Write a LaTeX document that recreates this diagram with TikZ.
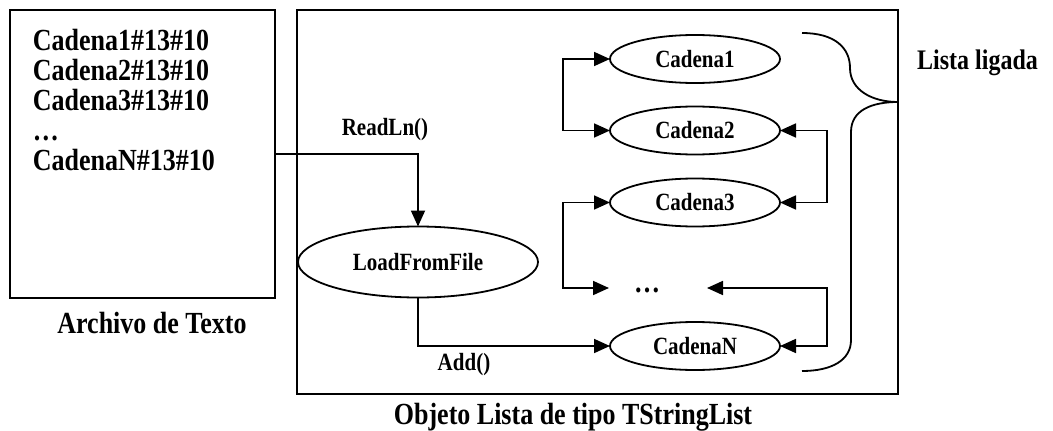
\documentclass[tikz,border=0pt]{standalone}
\usepackage{fontspec}
\setmainfont{Liberation Serif}
\usepackage{graphicx}
\usetikzlibrary{shapes.geometric,arrows.meta}
\newcommand\vst[1]{\scalebox{1}[1.18]{#1}}
\begin{document}
\begin{tikzpicture}[x=1pt,y=-1pt,
  line width=1.8pt,
  boxnode/.style={draw, rectangle, inner sep=0pt, outer sep=0pt},
  oval/.style={draw, ellipse, inner sep=0pt, outer sep=0pt, minimum width=170pt, minimum height=48pt, font=\bfseries\fontsize{21}{24}\selectfont},
  big/.style={font=\bfseries\fontsize{26}{25.2}\selectfont, inner sep=0pt},
  mid/.style={font=\bfseries\fontsize{24}{28}\selectfont, inner sep=0pt},
  small/.style={font=\bfseries\fontsize{21}{24}\selectfont, inner sep=0pt},
  arr/.style={-{Triangle[length=16pt,width=14pt]}},
  darr/.style={{Triangle[length=16pt,width=14pt]}-{Triangle[length=16pt,width=14pt]}}
]
\useasboundingbox (0,0) rectangle (1053,431);

% boxes
\node[boxnode, minimum width=265pt, minimum height=288pt] (filebox) at (142.5,154) {};
\node[boxnode, minimum width=601pt, minimum height=384pt] (objbox) at (597.5,202) {};

% file contents
\node[big, anchor=north west] (lines) at (32,28) {\vst{\begin{tabular}{@{}l@{}}
Cadena1\#13\#10\\
Cadena2\#13\#10\\
Cadena3\#13\#10\\
…\\
CadenaN\#13\#10
\end{tabular}}};

% ellipses
\node[oval, minimum width=240pt, minimum height=71pt] (load) at (418,262) {\vst{LoadFromFile}};
\node[oval] (cad1) at (695,59) {\vst{Cadena1}};
\node[oval] (cad2) at (695,130.5) {\vst{Cadena2}};
\node[oval] (cad3) at (695,202.5) {\vst{Cadena3}};
\node[oval] (cadN) at (695,346) {\vst{CadenaN}};
\node[big, anchor=base] (dots) at (647,292) {\vst{…}};
\coordinate (dl) at (609,288);
\coordinate (dr) at (707,288);

% labels
\node[small] (readln) at (385,130) {\vst{ReadLn()}};
\node[small] (add) at (464,365) {\vst{Add()}};
\node[big, anchor=base] (arch) at (152,333) {\vst{Archivo de Texto}};
\node[mid, anchor=base] (lista) at (977.5,69.5) {\vst{Lista ligada}};
\node[big, anchor=base] (objeto) at (573,424) {\vst{Objeto Lista de tipo TStringList}};

% connectors
\draw[arr] (filebox.east) -| (load.north);
\draw[arr] (load.south) |- (cadN.west);
\draw[darr] (cad1.west) -- ++(-47,0) |- (cad2.west);
\draw[darr] (cad3.west) -- ++(-47,0) |- (dl);
\draw[darr] (cad2.east) -- ++(47,0) |- (cad3.east);
\draw[darr] (dr) -- ++(120,0) |- (cadN.east);

% brace
\draw (802,33) .. controls (835,33) and (850,48) .. (850,68)
      .. controls (850,90) and (872,102) .. (898,102);
\draw (898,102) .. controls (872,102) and (851,110) .. (851,132)
      -- (851,340) .. controls (851,360) and (832,371) .. (802,371);
\end{tikzpicture}
\end{document}
